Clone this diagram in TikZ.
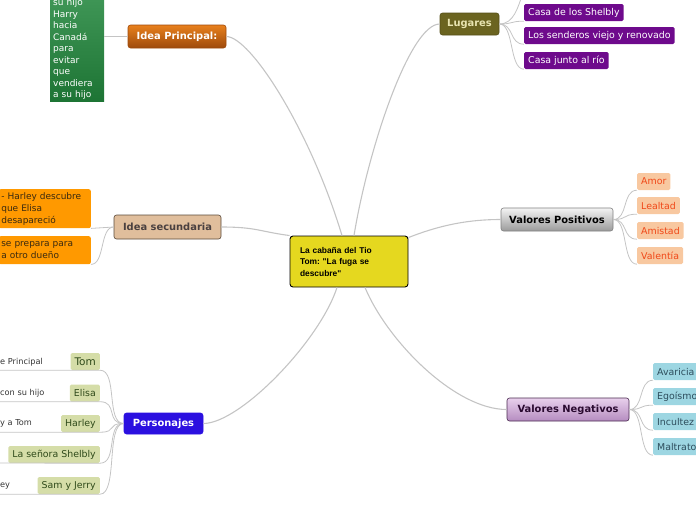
\documentclass[tikz,border=0pt]{standalone}
\usepackage{fontspec}
\setmainfont{DejaVu Sans}
\newfontfamily\cenfont{Liberation Sans}
\frenchspacing

\definecolor{linegray}{HTML}{C4C4C4}
\definecolor{cenyel}{HTML}{E5D81F}
\definecolor{iptop}{HTML}{E8801C}
\definecolor{ipbot}{HTML}{9E4A0C}
\definecolor{grtop}{HTML}{3F9656}
\definecolor{grbot}{HTML}{1D7434}
\definecolor{isecfill}{HTML}{E0BE9C}
\definecolor{isecdraw}{HTML}{5A4A3A}
\definecolor{isectext}{HTML}{4A4040}
\definecolor{orleaf}{HTML}{FF9900}
\definecolor{ortext}{HTML}{3A2A10}
\definecolor{perblue}{HTML}{2B10E0}
\definecolor{pgreen}{HTML}{D5DDA8}
\definecolor{ptext}{HTML}{2F4A1A}
\definecolor{subtext}{HTML}{333333}
\definecolor{lugfill}{HTML}{6B6420}
\definecolor{lugtext}{HTML}{E8E4B0}
\definecolor{lugkid}{HTML}{6E0A8C}
\definecolor{vptop}{HTML}{F4F4F4}
\definecolor{vpbot}{HTML}{9A9A9A}
\definecolor{vpkid}{HTML}{F8C8A0}
\definecolor{vptext}{HTML}{F04818}
\definecolor{vntop}{HTML}{E8D0EC}
\definecolor{vnbot}{HTML}{B58CC0}
\definecolor{vndraw}{HTML}{4A2A50}
\definecolor{vntext}{HTML}{2A0A30}
\definecolor{vnkid}{HTML}{9DD6E2}
\definecolor{vnktext}{HTML}{2D4D5C}

\begin{document}
\begin{tikzpicture}[x=1pt, y=-1pt,
  central/.style={rectangle, draw=black, line width=0.9pt, fill=cenyel, rounded corners=3pt,
    minimum height=51pt, text width=98pt, inner xsep=10pt, align=left,
    font=\cenfont\bfseries\fontsize{8.4}{11.5}\selectfont},
  main/.style={rectangle, draw=#1, line width=0.6pt, rounded corners=2.5pt,
    minimum height=23pt, inner sep=0pt, font=\bfseries\fontsize{9.9}{11}\selectfont},
  leaf/.style={rectangle, fill=#1, rounded corners=1.5pt, minimum height=17pt,
    inner xsep=4pt, inner ysep=0pt, font=\fontsize{9.4}{11}\selectfont},
  oleaf/.style={rectangle, fill=orleaf, text=ortext, rounded corners=2pt, anchor=north east,
    text width=87pt, inner xsep=2.5pt, inner ysep=2pt, align=left, font=\fontsize{9}{12}\selectfont},
  sub/.style={anchor=west, inner sep=1pt, text=subtext, font=\fontsize{8.2}{10}\selectfont},
  branch/.style={draw=linegray, line width=1.1pt},
  conn/.style={draw=linegray, line width=0.8pt}
]
\useasboundingbox (0,0) rectangle (696,520);
\clip (0,0) rectangle (696,520);

% centro
\node[central] (cen) at (349,261.5) {La cabaña del Tio\\Tom: "La fuga se\\descubre"};

% ramas principales
\node[main=ipbot, top color=iptop, bottom color=ipbot, text=white, minimum width=98pt] (ip) at (177,36.5) {Idea Principal:};
\node[main=isecdraw, fill=isecfill, text=isectext, minimum width=107pt, minimum height=24pt] (isec) at (167.5,227) {Idea secundaria};
\node[main=perblue, fill=perblue, text=white, minimum width=79pt, minimum height=21pt] (per) at (163.5,423.5) {Personajes};
\node[main=lugfill!80!black, fill=lugfill, text=lugtext, minimum width=59pt, minimum height=22pt] (lug) at (469.5,24) {Lugares};
\node[main=gray, top color=vptop, bottom color=vpbot, text=black, minimum width=112pt] (vpos) at (557,219.5) {Valores Positivos};
\node[main=vndraw, top color=vntop, bottom color=vnbot, text=vntext, minimum width=122pt] (vneg) at (568,409.5) {Valores Negativos};

\draw[branch] (ip.east) .. controls +(24,0) and +(-32,-106) .. ([xshift=-7pt]cen.north);
\draw[branch] ([xshift=5pt]cen.north) .. controls +(14,-86) and +(-30,0) .. (lug.west);
\draw[branch] (isec.east) .. controls +(35,0) and +(-30,-4) .. (cen.north west);
\draw[branch] ([yshift=-2pt]cen.north east) .. controls +(33,-13) and +(-31,0) .. (vpos.west);
\draw[branch] (per.east) .. controls +(37,0) and +(-17,53) .. ([xshift=-12pt]cen.south);
\draw[branch] ([xshift=16pt]cen.south) .. controls +(22,53) and +(-52,0) .. (vneg.west);

% idea principal
\node[top color=grtop, bottom color=grbot, text=white, text width=48pt, inner xsep=3pt, inner ysep=2pt,
  anchor=south west, align=left, font=\fontsize{9}{11.5}\selectfont] (grn) at (50,102)
  {su hijo\\Harry\\hacia\\Canadá\\para\\evitar\\que\\vendiera\\a su hijo};
\draw[conn] (ip.west) -- (grn.east |- ip.west);

% idea secundaria
\node[oleaf, minimum height=39pt] (ob1) at (91,189) {- Harley descubre\\que Elisa\\desapareció};
\node[oleaf, minimum height=28pt] (ob2) at (91,236) {se prepara para\\a otro dueño};
\draw[conn] (isec.west) .. controls +(-12,0) and +(12,0) .. (ob1.south east);
\draw[conn] (isec.west) .. controls +(-14,0) and +(14,0) .. (ob2.south east);

% personajes
\node[leaf=pgreen, text=ptext, anchor=east, font=\fontsize{10.5}{12}\selectfont] (tom) at (100,361.5) {Tom};
\node[leaf=pgreen, text=ptext, anchor=east] (eli) at (100,393) {Elisa};
\node[leaf=pgreen, text=ptext, anchor=east] (har) at (100,423.5) {Harley};
\node[leaf=pgreen, text=ptext, anchor=east] (sra) at (100,454.5) {La señora Shelbly};
\node[leaf=pgreen, text=ptext, anchor=east] (sam) at (100,485.5) {Sam y Jerry};
\node[sub] (tomtx) at (-1,362) {e Principal};
\node[sub] (elitx) at (-1,393) {con su hijo};
\node[sub] (hartx) at (-1,423.5) {y a Tom};
\node[sub] (samtx) at (-1,486) {ey};
\coordinate (sraend) at (-2,463);
\draw[conn] (per.west) .. controls +(-18,0) and +(18,0) .. (tom.south east) -- (tom.south east -| tomtx.west);
\draw[conn] (per.west) .. controls +(-18,0) and +(18,0) .. (eli.south east) -- (eli.south east -| elitx.west);
\draw[conn] (per.west) .. controls +(-18,0) and +(18,0) .. (har.south east) -- (har.south east -| hartx.west);
\draw[conn] (per.west) .. controls +(-18,0) and +(18,0) .. (sra.south east) -- (sraend);
\draw[conn] (per.west) .. controls +(-18,0) and +(18,0) .. (sam.south east) -- (sam.south east -| samtx.west);

% lugares
\coordinate (lugtop) at (522,-4);
\node[leaf=lugkid, text=white, anchor=west] (casa) at (524,12.5) {Casa de los Shelbly};
\node[leaf=lugkid, text=white, anchor=west] (sen) at (524,35.5) {Los senderos viejo y renovado};
\node[leaf=lugkid, text=white, anchor=west] (rio) at (524,60.5) {Casa junto al río};
\draw[conn] (lug.east) .. controls +(15,0) and +(-4,10) .. (lugtop);
\draw[conn] (lug.east) .. controls +(15,0) and +(-15,0) .. (casa.south west);
\draw[conn] (lug.east) .. controls +(15,0) and +(-15,0) .. (sen.south west);
\draw[conn] (lug.east) .. controls +(15,0) and +(-15,0) .. (rio.south west);

% valores positivos
\node[leaf=vpkid, text=vptext, anchor=west] (amor) at (637,181.5) {Amor};
\node[leaf=vpkid, text=vptext, anchor=west] (leal) at (637,205.5) {Lealtad};
\node[leaf=vpkid, text=vptext, anchor=west] (amis) at (637,230.5) {Amistad};
\node[leaf=vpkid, text=vptext, anchor=west] (val) at (637,255.5) {Valentía};
\foreach \k in {amor,leal,amis,val}
  \draw[conn] (vpos.east) .. controls +(15,0) and +(-15,0) .. (\k.south west);

% valores negativos
\node[leaf=vnkid, text=vnktext, anchor=west] (ava) at (653,371.5) {Avaricia};
\node[leaf=vnkid, text=vnktext, anchor=west] (ego) at (653,396.5) {Egoísmo};
\node[leaf=vnkid, text=vnktext, anchor=west] (inc) at (653,421.5) {Incultez};
\node[leaf=vnkid, text=vnktext, anchor=west] (mal) at (653,446.5) {Maltrato};
\foreach \k in {ava,ego,inc,mal}
  \draw[conn] (vneg.east) .. controls +(15,0) and +(-15,0) .. (\k.south west);
\end{tikzpicture}
\end{document}
